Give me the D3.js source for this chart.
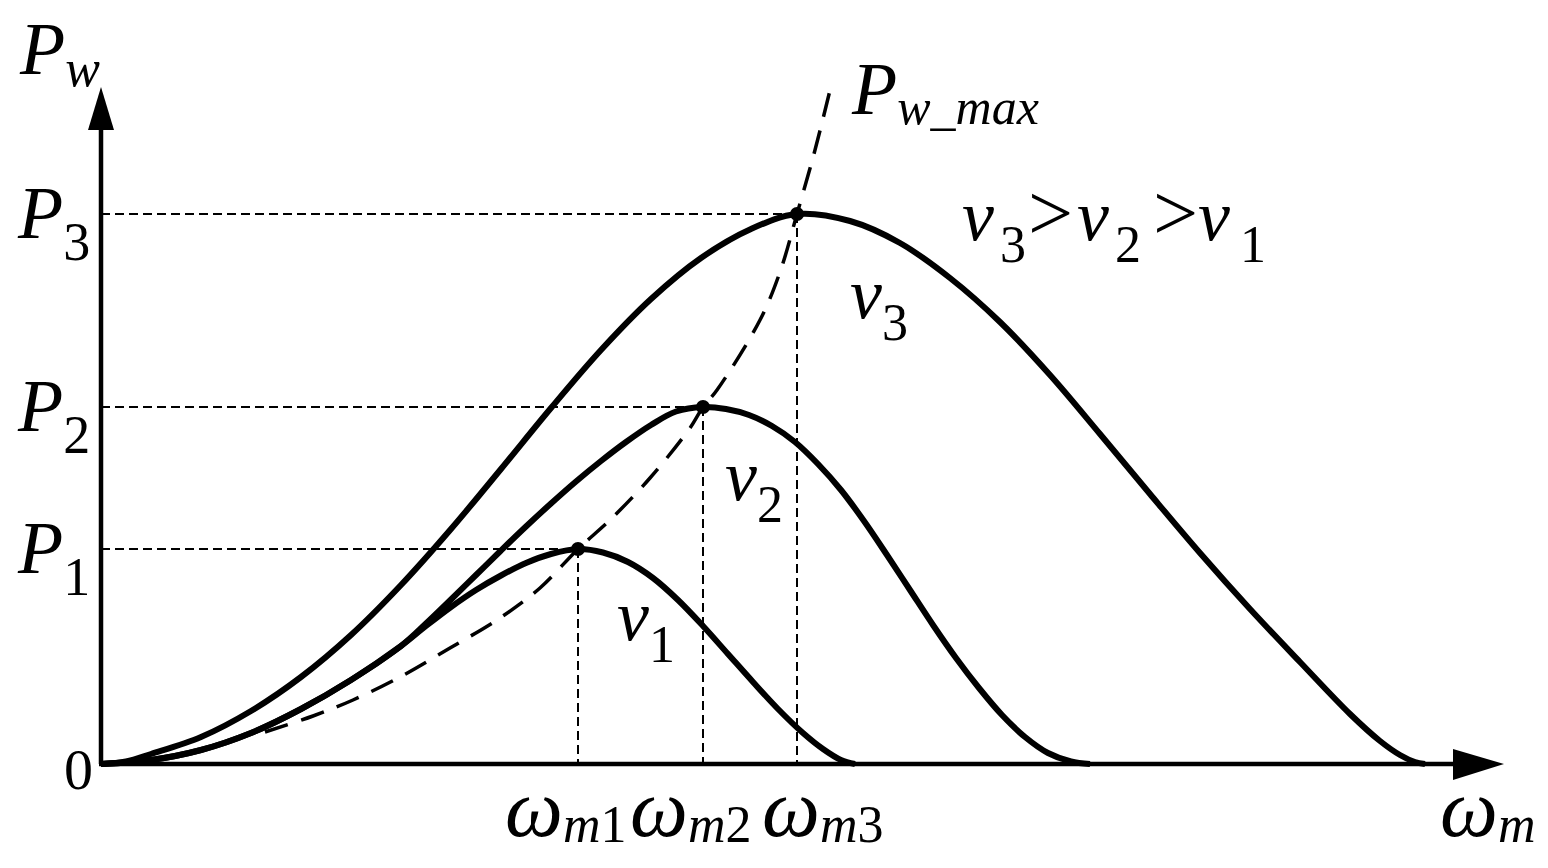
<!DOCTYPE html>
<html>
<head>
<meta charset="utf-8">
<script src="https://cdn.jsdelivr.net/npm/d3@7"></script>
<style>
  body { margin: 0; background: #fff; }
  text { font-family: "Liberation Serif", "Times New Roman", serif; fill: #000; }
</style>
</head>
<body>
<div class="chart"></div>
<script>
// wind turbine power vs rotor speed
// x = rotor speed, y = power (arbitrary units)
var curveV1 = [[0,0],[5,0.4],[10,1.4],[15,3.1],[20,5.5],[25,8.4],[30,11.8],[32.5,13.8],[35,15.7],[37.5,17.4],[40,18.85],[42.5,20.1],[45,21.0],[47.7,21.5],
  [50.2,21.15],[52.7,20.2],[55.2,18.6],[57.7,16.4],[60.2,13.8],[62.7,11.0],[65.2,8.2],[67.7,5.5],[70.2,3.1],[72.2,1.5],[74.0,0.4],[75.4,0]];
var curveV2 = [[0,0],[5,0.4],[10,1.4],[15,3.1],[20,5.5],[25,8.4],[30,11.8],[32.5,14.05],[35,16.45],[37.5,18.9],[40,21.35],[42.5,23.75],[45,26.05],[47.5,28.25],[50,30.3],[52.5,32.2],[55,33.9],[57.5,35.25],[60.2,35.7],
  [62.5,35.5],[64.8,34.9],[67.1,33.8],[69.4,32.2],[71.7,30.0],[74.0,27.4],[76.3,24.3],[78.6,20.9],[80.9,17.4],[83.2,13.9],[85.5,10.6],[87.8,7.6],[90.1,4.9],[92.4,2.7],[94.7,1.1],[97.0,0.25],[98.9,0]];
var curveV3 = [[0,0],[2.5,0.25],[5,1.0],[10,2.7],[15,5.3],[20,8.7],[25,12.9],[30,17.9],[35,23.5],[40,29.5],[45,35.6],[50,41.4],[55,46.5],[60,50.6],[65,53.5],[69.6,55.0],
  [74.9,54.3],[79.9,52.1],[84.9,48.6],[89.9,44.2],[94.9,38.9],[99.9,33.0],[104.9,27.0],[109.9,21.1],[114.9,15.5],[119.9,10.2],[124.9,5.0],[127.9,2.3],[129.9,0.9],[131.4,0.2],[132.4,0]];
var curveMax = [[16.4,3.2],[21.2,4.8],[25.2,6.4],[29.9,8.7],[34.9,11.6],[39.9,14.6],[43.9,17.6],[47.7,21.5],[50.9,24.4],[54.9,28.6],[58.9,33.6],[60.2,35.7],[61.6,37.4],[65.9,44.4],[67.9,49.2],[69.6,55.0],[71.4,61.4],[73.1,68.2]];

var omegaPeak = [47.7, 60.2, 69.6];   // ωm1, ωm2, ωm3
var powerPeak = [21.5, 35.7, 55.0];   // P1, P2, P3
var peakIndex = ["1", "2", "3"];

var svgWidth = 1548;
var svgHeight = 868;

var svg = d3.select(".chart")
  .append("svg")
  .attr("width", svgWidth)
  .attr("height", svgHeight);

var xScale = d3.scaleLinear().domain([0, 140]).range([101, 1501]);
var yScale = d3.scaleLinear().domain([0, 68]).range([764, 84]);

var line = d3.line()
  .x(d => xScale(d[0]))
  .y(d => yScale(d[1]))
  .curve(d3.curveCatmullRom.alpha(0.5));

// guide lines from the peaks
var guides = svg.append("g")
  .attr("stroke", "#000")
  .attr("stroke-width", 2)
  .attr("stroke-dasharray", "9,5");

omegaPeak.forEach(function(w, i) {
  guides.append("line")
    .attr("x1", xScale(0)).attr("x2", xScale(w))
    .attr("y1", yScale(powerPeak[i])).attr("y2", yScale(powerPeak[i]));
  guides.append("line")
    .attr("x1", xScale(w)).attr("x2", xScale(w))
    .attr("y1", yScale(powerPeak[i])).attr("y2", yScale(0));
});

// the three power curves
svg.append("g").selectAll("path")
  .data([curveV1, curveV2, curveV3])
  .enter()
  .append("path")
  .attr("d", line)
  .attr("fill", "none")
  .attr("stroke", "#000")
  .attr("stroke-width", 6)
  .attr("stroke-linejoin", "round");

// maximum power trajectory
svg.append("path")
  .attr("d", line(curveMax))
  .attr("fill", "none")
  .attr("stroke", "#000")
  .attr("stroke-width", 3.5)
  .attr("stroke-dasharray", "24,14");

svg.append("g").selectAll("circle")
  .data(omegaPeak)
  .enter()
  .append("circle")
  .attr("cx", d => xScale(d))
  .attr("cy", (d, i) => yScale(powerPeak[i]))
  .attr("r", 7)
  .attr("fill", "#000");

// axes with arrow heads
svg.append("line")
  .attr("x1", xScale(0)).attr("y1", yScale(0))
  .attr("x2", xScale(0)).attr("y2", 125)
  .attr("stroke", "#000").attr("stroke-width", 4.5);
svg.append("line")
  .attr("x1", xScale(0) - 2).attr("y1", yScale(0))
  .attr("x2", 1460).attr("y2", yScale(0))
  .attr("stroke", "#000").attr("stroke-width", 4.5);
svg.append("path")
  .attr("d", `M${xScale(0)},87 L${xScale(0) + 13},130 L${xScale(0) - 13},130 Z`)
  .attr("fill", "#000");
svg.append("path")
  .attr("d", `M1504,${yScale(0)} L1453,${yScale(0) - 15} L1453,${yScale(0) + 16} Z`)
  .attr("fill", "#000");

// labels: main letter plus subscript parts
function label(x, y, main, sub, mainSize, subSize, subDy) {
  var t = svg.append("text").attr("x", x).attr("y", y);
  t.append("tspan")
    .style("font-size", mainSize + "px")
    .style("font-style", "italic")
    .text(main);
  sub.forEach(function(s, k) {
    t.append("tspan")
      .attr("dy", k === 0 ? subDy : 0)
      .style("font-size", subSize + "px")
      .style("font-style", s.italic ? "italic" : "normal")
      .text(s.text);
  });
  return t;
}

svg.append("text")
  .attr("x", 93).attr("y", 789)
  .attr("text-anchor", "end")
  .style("font-size", "58px")
  .text("0");

label(20, 74, "P", [{text: "w", italic: true}], 74, 52, 12);

powerPeak.forEach(function(p, i) {
  label(18, yScale(p) + 24, "P", [{text: peakIndex[i], italic: false}], 74, 54, 22);
});

// omega labels are nudged left so they do not collide
var omegaShift = [-73, -73, -35];
omegaPeak.forEach(function(w, i) {
  label(xScale(w) + omegaShift[i], 836, "\u03c9", [{text: "m", italic: true}, {text: peakIndex[i], italic: false}], 82, 52, 6);
});

label(1440, 836, "\u03c9", [{text: "m", italic: true}], 82, 52, 6);

label(852, 114, "P", [{text: "w_max", italic: true}], 74, 50, 10);

// speed labels on each curve
var vLabelPos = [[51.6, 12.4], [62.4, 26.4], [74.9, 44.6]];
vLabelPos.forEach(function(d, i) {
  label(xScale(d[0]), yScale(d[1]), "v", [{text: peakIndex[i], italic: false}], 72, 52, 22);
});

// v3 > v2 > v1
var orderParts = [
  {x: 962, dy: 0, t: "v", italic: true, size: 72},
  {x: 1000, dy: 22, t: "3", italic: false, size: 52},
  {x: 1028, dy: 0, t: ">", italic: false, size: 80},
  {x: 1077, dy: 0, t: "v", italic: true, size: 72},
  {x: 1115, dy: 22, t: "2", italic: false, size: 52},
  {x: 1153, dy: 0, t: ">", italic: false, size: 80},
  {x: 1198, dy: 0, t: "v", italic: true, size: 72},
  {x: 1240, dy: 22, t: "1", italic: false, size: 52}
];
svg.append("g").selectAll("text")
  .data(orderParts)
  .enter()
  .append("text")
  .attr("x", d => d.x)
  .attr("y", d => 240 + d.dy)
  .style("font-size", d => d.size + "px")
  .style("font-style", d => d.italic ? "italic" : "normal")
  .text(d => d.t);
</script>
</body>
</html>
